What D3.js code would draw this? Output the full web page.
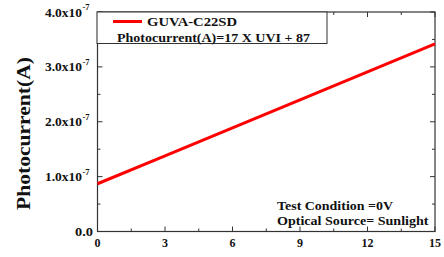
<!DOCTYPE html>
<html><head><meta charset="utf-8">
<script src="https://cdn.jsdelivr.net/npm/d3@7"></script>
<style>body{margin:0;background:#fff;} svg{display:block;}</style>
</head>
<body><svg id="c" width="444" height="257"></svg>
<script>
const uvi = [0, 3, 6, 9, 12, 15];
const currentNA = [87, 138, 189, 240, 291, 342]; // nA
const xTicks = [0, 3, 6, 9, 12, 15];
const yTicks = [0, 1, 2, 3, 4]; // x10^-7 A
const yTickLabels = ["0.0", "1.0x10", "2.0x10", "3.0x10", "4.0x10"];
const legendLabel = "GUVA-C22SD";
const equation = "Photocurrent(A)=17 X UVI + 87";
const notes = ["Test Condition =0V", "Optical Source= Sunlight"];

const FONT = "Liberation Serif";
const svg = d3.select("#c");
const L = 97.5, R = 435, T = 12, B = 231.5;
const x = d3.scaleLinear().domain([0, 15]).range([L, R]);
const y = d3.scaleLinear().domain([0, 4e-7]).range([B, T]);

function txt(parent, s, size, w) {
  const t = parent.append("text").attr("font-family", FONT).attr("font-weight", "bold")
    .attr("font-size", size).attr("fill", "#111").text(s);
  if (w) t.attr("textLength", w).attr("lengthAdjust", "spacingAndGlyphs");
  return t;
}

const g = svg.append("g");
g.append("rect").attr("x", L).attr("y", T).attr("width", R - L).attr("height", B - T)
  .attr("fill", "none").attr("stroke", "#333").attr("stroke-width", 1.2);

const xMinor = d3.range(0, 15.01, 1.5);
const yMinor = d3.range(0, 4.01e-7, 0.5e-7);
function isMajorX(v){ return Math.abs(v/3 - Math.round(v/3)) < 1e-6; }
function isMajorY(v){ return Math.abs(v/1e-7 - Math.round(v/1e-7)) < 1e-6; }

xMinor.forEach(v => {
  const len = isMajorX(v) ? 5 : 3;
  g.append("line").attr("x1", x(v)).attr("x2", x(v)).attr("y1", B).attr("y2", B - len).attr("stroke", "#333");
  g.append("line").attr("x1", x(v)).attr("x2", x(v)).attr("y1", T).attr("y2", T + len).attr("stroke", "#333");
});
yMinor.forEach(v => {
  const len = isMajorY(v) ? 5 : 3;
  g.append("line").attr("y1", y(v)).attr("y2", y(v)).attr("x1", L).attr("x2", L + len).attr("stroke", "#333");
  g.append("line").attr("y1", y(v)).attr("y2", y(v)).attr("x1", R).attr("x2", R - len).attr("stroke", "#333");
});

xTicks.forEach(v => {
  txt(g, v, 12).attr("x", x(v)).attr("y", B + 15).attr("text-anchor", "middle");
});
yTicks.forEach((v, i) => {
  if (i === 0) {
    txt(g, yTickLabels[i], 12, 18).attr("x", 75).attr("y", y(0) + 4);
  } else {
    txt(g, yTickLabels[i], 12, 37).attr("x", 45).attr("y", y(v * 1e-7) + 4.5);
    txt(g, "-7", 8.5).attr("x", 82.5).attr("y", y(v * 1e-7) - 2);
  }
});

txt(svg, "Photocurrent(A)", 18, 153)
  .attr("transform", `translate(30,${133.5}) rotate(-90)`).attr("text-anchor", "middle");

const line = d3.line().x((d, i) => x(uvi[i])).y(d => y(d * 1e-9));
g.append("path").datum(currentNA).attr("d", line).attr("fill", "none")
  .attr("stroke", "#f00").attr("stroke-width", 3);

g.append("rect").attr("x", 97).attr("y", 12).attr("width", 230).attr("height", 31.5)
  .attr("fill", "#fff").attr("stroke", "#333").attr("stroke-width", 1);
g.append("line").attr("x1", 113).attr("x2", 142).attr("y1", 21.5).attr("y2", 21.5)
  .attr("stroke", "#f00").attr("stroke-width", 3);
txt(g, legendLabel, 13, 90).attr("x", 147).attr("y", 26);
txt(g, equation, 13, 193).attr("x", 117).attr("y", 41.5);

const noteW = [116, 151.5];
notes.forEach((n, i) => {
  txt(g, n, 13, noteW[i]).attr("x", 277).attr("y", 209.5 + i * 15.7);
});
</script></body></html>
